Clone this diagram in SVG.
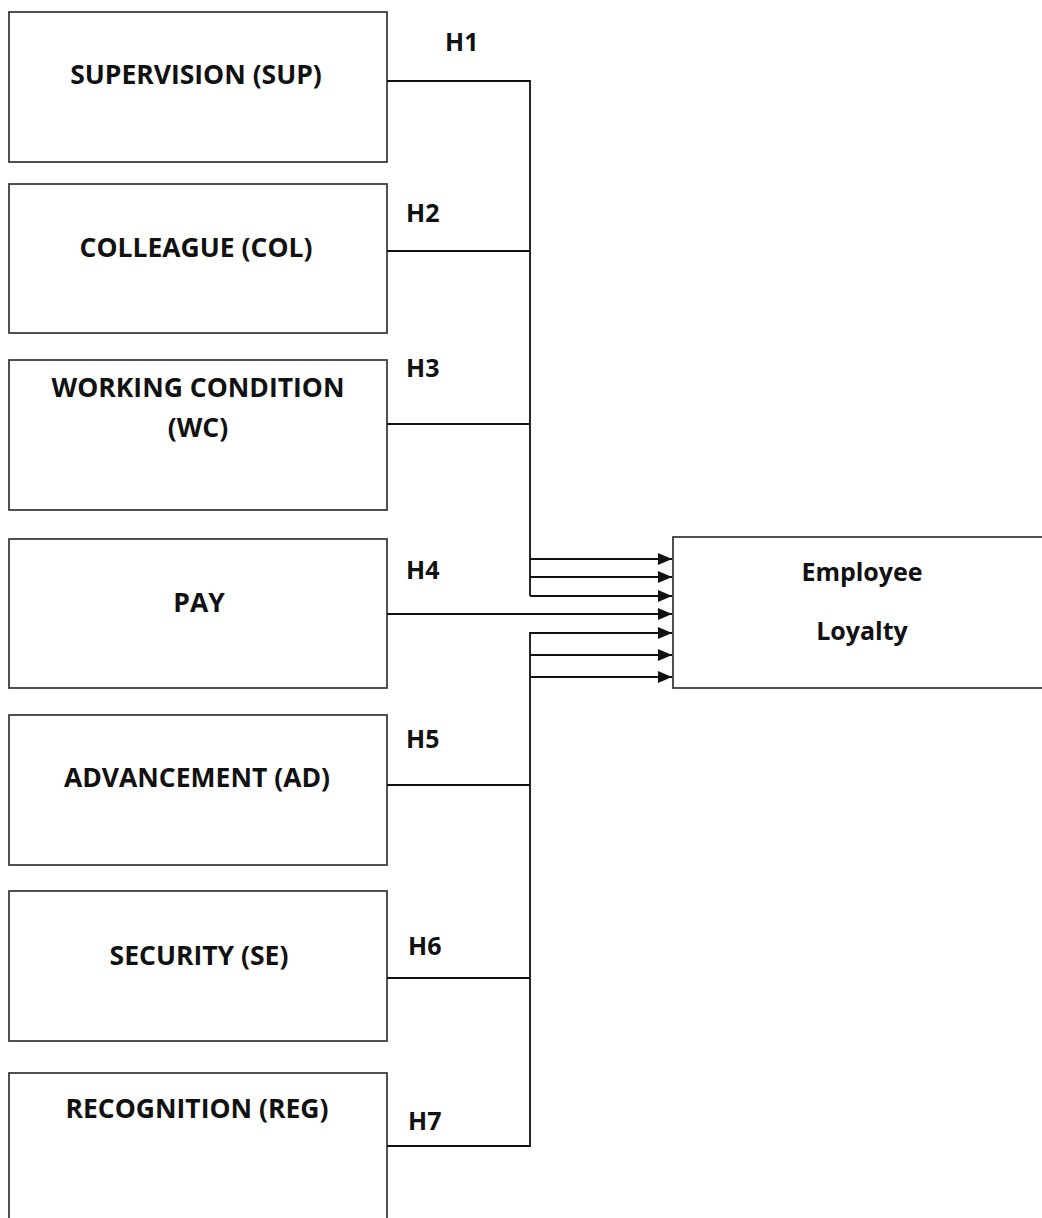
<svg xmlns="http://www.w3.org/2000/svg" width="1042" height="1218" viewBox="0 0 1042 1218">
<style>
.box{fill:#fff;stroke:#333;stroke-width:1.7}
.t{font-family:"Open Sans","Liberation Sans",sans-serif;font-weight:bold;font-size:26.5px;fill:#111;text-anchor:middle}
.h{font-family:"Open Sans","Liberation Sans",sans-serif;font-weight:bold;font-size:25px;fill:#111}
.c{fill:none;stroke:#111;stroke-width:1.8}
</style>
<defs>
<marker id="ar" markerWidth="14" markerHeight="12" refX="14" refY="6" orient="auto" markerUnits="userSpaceOnUse">
<path d="M0,0 L14,6 L0,12 Z" fill="#111"/>
</marker>
</defs>
<rect width="1042" height="1218" fill="#fff"/>
<g id="sup"><rect class="box" x="9" y="12" width="378" height="150"/><text class="t" x="196" y="84">SUPERVISION (SUP)</text></g>
<g id="col"><rect class="box" x="9" y="184" width="378" height="149"/><text class="t" x="196" y="257">COLLEAGUE (COL)</text></g>
<g id="wc"><rect class="box" x="9" y="360" width="378" height="150"/><text class="t" x="198" y="397">WORKING CONDITION</text><text class="t" x="198" y="437">(WC)</text></g>
<g id="pay"><rect class="box" x="9" y="539" width="378" height="149"/><text class="t" x="199" y="612">PAY</text></g>
<g id="ad"><rect class="box" x="9" y="715" width="378" height="150"/><text class="t" x="197" y="787">ADVANCEMENT (AD)</text></g>
<g id="se"><rect class="box" x="9" y="891" width="378" height="150"/><text class="t" x="199" y="965">SECURITY (SE)</text></g>
<g id="reg"><rect class="box" x="9" y="1073" width="378" height="160"/><text class="t" x="197" y="1118">RECOGNITION (REG)</text></g>
<g id="el"><rect class="box" x="673" y="537" width="380" height="151"/><text class="t" x="862" y="581" style="font-size:25px">Employee</text><text class="t" x="862" y="640" style="font-size:25px">Loyalty</text></g>
<g id="connectors">
<path class="c" d="M387,81 H530 V596"/>
<path class="c" d="M387,251 H530"/>
<path class="c" d="M387,424 H530"/>
<path class="c" d="M530,559 H672" marker-end="url(#ar)"/>
<path class="c" d="M530,577 H672" marker-end="url(#ar)"/>
<path class="c" d="M530,596 H672" marker-end="url(#ar)"/>
<path class="c" d="M387,614 H672" marker-end="url(#ar)"/>
<path class="c" d="M672,633 H530 V1146 H387"/>
<path class="c" d="M530,633 H672" marker-end="url(#ar)"/>
<path class="c" d="M530,655 H672" marker-end="url(#ar)"/>
<path class="c" d="M530,677 H672" marker-end="url(#ar)"/>
<path class="c" d="M387,785 H530"/>
<path class="c" d="M387,978 H530"/>
</g>
<g id="labels">
<text class="h" x="445" y="51">H1</text>
<text class="h" x="406" y="222">H2</text>
<text class="h" x="406" y="377">H3</text>
<text class="h" x="406" y="579">H4</text>
<text class="h" x="406" y="748">H5</text>
<text class="h" x="408" y="955">H6</text>
<text class="h" x="408" y="1130">H7</text>
</g>
</svg>
